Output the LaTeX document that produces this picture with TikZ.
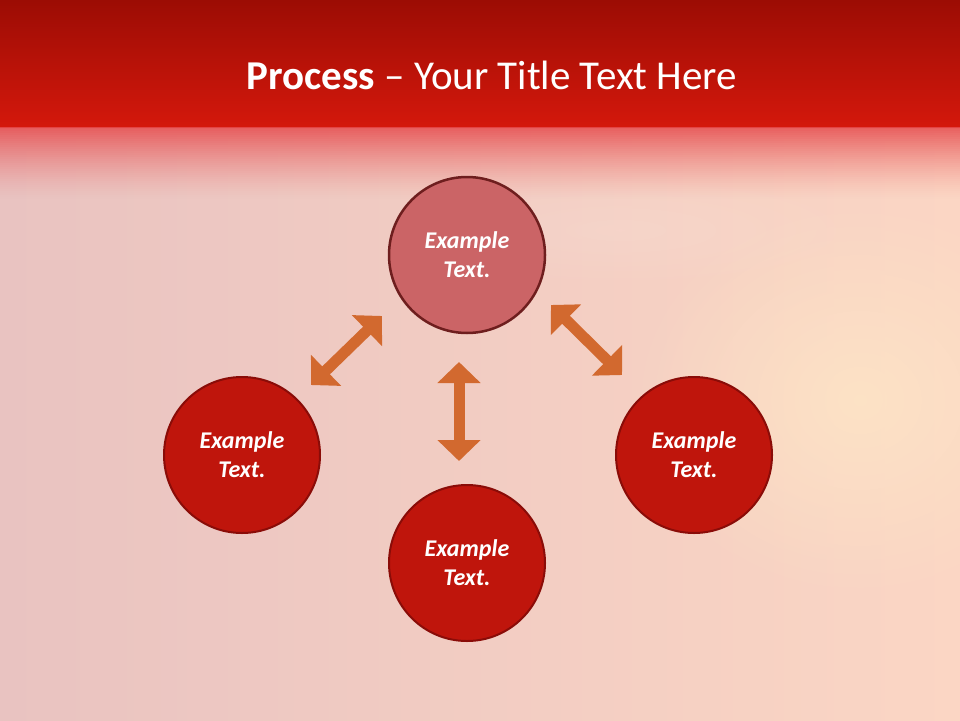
\documentclass[tikz,border=0pt]{standalone}
\usepackage{fontspec}
\setmainfont{Carlito}
\usetikzlibrary{arrows.meta,fadings}
\definecolor{bandtop}{HTML}{9C0C04}
\definecolor{bandbot}{HTML}{D4180C}
\definecolor{fadecol}{HTML}{E64C4E}
\definecolor{bgleft}{HTML}{E9C3C1}
\definecolor{bgright}{HTML}{FBD6C4}
\definecolor{bgspot}{HTML}{FDE4C6}
\definecolor{redfill}{HTML}{BF150C}
\definecolor{redline}{HTML}{8A0C08}
\definecolor{topfill}{HTML}{CB6466}
\definecolor{topline}{HTML}{6E1E1E}
\definecolor{arrowcol}{HTML}{D2692F}
\tikzfading[name=spotfade, inner color=transparent!0, outer color=transparent!100]
\tikzset{
  circ/.style={circle, minimum size=156pt, inner sep=0pt, line width=2pt,
    draw=redline, fill=redfill, text=white, align=center,
    font=\fontsize{24}{29}\selectfont\bfseries\itshape},
  topcirc/.style={circ, draw=topline, fill=topfill, line width=2.5pt},
  dblarrow/.style={arrowcol, line width=11pt,
    {Triangle[width=42pt,length=21pt]}-{Triangle[width=42pt,length=21pt]}}
}
\begin{document}
\begin{tikzpicture}[x=1pt,y=-1pt]
\useasboundingbox (0,0) rectangle (960,720);
% background
\shade[left color=bgleft, right color=bgright] (0,0) rectangle (960,720);
\fill[bgspot, path fading=spotfade, opacity=0.9] (860,400) ellipse (230 and 200);
\fill[white, opacity=0.10, path fading=spotfade] (620,230) ellipse (260 and 60);
\shade[top color=bandtop, bottom color=bandbot] (0,0) rectangle (960,127);
\foreach \i in {0,...,35}{
  \pgfmathsetmacro{\op}{0.85*(1-\i/36)^1.4}
  \fill[fadecol, opacity=\op] (0,127+2*\i) rectangle (960,129+2*\i);
}
% title
\node (title) at (492,75) {\fontsize{41}{49}\selectfont\color{white}\textbf{Process} – Your Title Text Here};
% circles
\node[topcirc] (top) at (467,255) {Example\\Text.};
\node[circ] (left) at (242,455) {Example\\Text.};
\node[circ] (right) at (694,455) {Example\\Text.};
\node[circ] (bottom) at (467,563) {Example\\Text.};
% arrow ends
\coordinate (la1) at (382,316);
\coordinate (la2) at (311,385);
\coordinate (ra1) at (551,305);
\coordinate (ra2) at (622,375);
\coordinate (va1) at (459,362);
\coordinate (va2) at (459,461);
\draw[dblarrow] (la1) -- (la2);
\draw[dblarrow] (ra1) -- (ra2);
\draw[dblarrow] (va1) -- (va2);
\end{tikzpicture}
\end{document}
